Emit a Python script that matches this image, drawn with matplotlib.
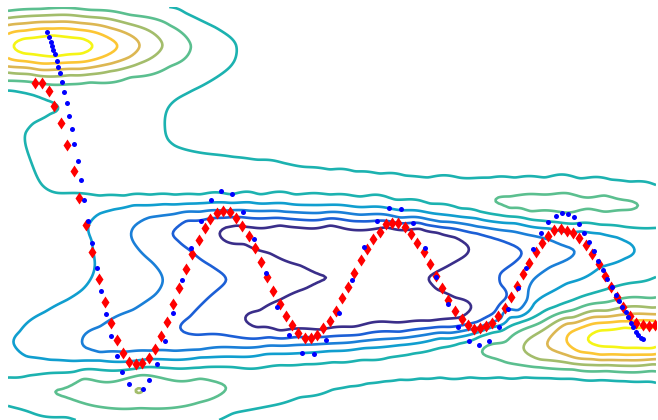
import numpy as np
import matplotlib
matplotlib.use("Agg")
import matplotlib.pyplot as plt

# Traced points on each contour level, (x, y)
lvl1 = [(219, 188), (225, 193), (237, 195), (280, 195), (330, 195), (387, 193), (420, 192),
        (437, 188), (455, 183), (467, 175), (468, 168), (460, 161), (453, 157), (440, 150),
        (427, 142), (432, 136), (437, 130), (455, 122), (470, 115), (468, 108), (460, 102),
        (430, 99), (403, 98), (353, 93), (320, 90), (280, 89), (257, 92), (245, 100),
        (260, 109), (280, 120), (305, 131), (330, 143), (300, 155), (270, 167), (245, 177),
        (222, 186)]
lvl2 = [(172, 187), (180, 195), (187, 200), (210, 202), (237, 203), (280, 202), (320, 200),
        (360, 199), (400, 197), (425, 195), (450, 192), (477, 187), (490, 183), (500, 180),
        (515, 174), (522, 168), (517, 160), (508, 153), (500, 147), (500, 135), (505, 120),
        (495, 108), (477, 98), (450, 93), (400, 88), (360, 85), (320, 83), (295, 83), (270, 83),
        (230, 84), (197, 85), (185, 87), (182, 90), (190, 103), (203, 117), (215, 128),
        (227, 140), (210, 155), (190, 170), (178, 180)]
lvl3 = [(131, 185), (140, 198), (150, 203), (175, 206), (200, 208), (225, 209), (250, 209),
        (285, 208), (320, 207), (360, 205), (400, 202), (440, 198), (477, 193), (500, 190),
        (520, 187), (535, 184), (550, 180), (568, 173), (575, 168), (570, 162), (560, 157),
        (550, 153), (540, 146), (533, 140), (528, 130), (528, 120), (518, 108), (503, 100),
        (480, 92), (450, 87), (400, 82), (360, 79), (320, 76), (260, 73), (200, 70), (175, 69),
        (150, 69), (125, 68), (100, 67), (85, 72), (83, 80), (100, 93), (133, 110), (155, 125),
        (163, 140), (152, 158), (137, 173)]
lvl4 = [(88, 193), (100, 207), (115, 211), (133, 215), (165, 216), (200, 217), (225, 218),
        (250, 218), (285, 217), (320, 215), (360, 213), (400, 210), (440, 206), (477, 202),
        (515, 197), (550, 192), (580, 189), (600, 187), (617, 183), (630, 177), (635, 170),
        (625, 162), (600, 153), (567, 137), (533, 117), (507, 105), (483, 90), (440, 82),
        (400, 75), (365, 72), (330, 69), (265, 66), (200, 63), (150, 61), (100, 60), (75, 59),
        (50, 60), (27, 63), (13, 77), (20, 88), (27, 97), (45, 108), (67, 120), (82, 130),
        (90, 140), (95, 157), (93, 170), (92, 180)]
lvl5 = [(168, 413), (185, 407), (200, 400), (215, 393), (230, 383), (236, 376), (237, 370),
        (235, 360), (230, 353), (220, 345), (207, 337), (193, 330), (180, 323), (172, 317),
        (167, 310), (165, 302), (165, 293), (166, 285), (168, 280), (175, 274), (187, 270),
        (210, 266), (233, 263), (258, 260), (283, 257), (305, 253), (330, 250), (355, 248),
        (380, 246), (405, 244), (428, 242), (460, 242), (490, 242), (515, 242), (545, 242),
        (580, 241), (611, 240), (630, 238), (655, 235),
        (8, 330), (33, 325), (53, 318), (58, 314), (50, 307), (33, 297), (25, 287), (27, 270),
        (33, 253), (42, 235), (57, 227), (100, 224), (125, 224), (150, 225), (175, 225),
        (200, 225), (230, 225), (260, 225), (295, 225), (330, 225), (360, 223), (395, 220),
        (430, 216), (461, 211), (480, 208), (500, 205), (525, 202), (550, 198), (575, 196),
        (600, 195), (625, 193), (653, 192),
        (8, 43), (30, 45), (50, 47), (75, 48), (100, 50), (135, 51), (170, 52), (200, 52),
        (233, 53), (280, 55), (305, 56), (333, 58), (360, 60), (390, 63), (415, 67), (440, 72),
        (460, 77), (480, 84), (493, 88), (507, 93), (523, 99), (540, 106), (555, 113), (573, 120),
        (590, 126), (610, 132), (630, 137), (653, 142),
        (8, 14), (30, 8), (67, 3), (140, -1), (233, 7), (270, 14), (300, 23), (333, 31),
        (350, 34), (367, 37), (385, 39), (400, 41), (420, 42), (440, 43), (470, 43), (500, 43),
        (525, 43), (550, 42), (575, 41), (600, 40), (625, 39), (653, 38)]
lvl6 = [(192, 374), (170, 394), (130, 405), (90, 410), (40, 411), (8, 409), (8, 339), (40, 337),
        (90, 338), (130, 343), (170, 354),
        (485, 65), (507, 78), (540, 97), (573, 110), (607, 118), (653, 122), (507, 57), (540, 53),
        (573, 51), (607, 49), (653, 49),
        (495, 217), (510, 223), (530, 226), (567, 227), (605, 225), (628, 220), (640, 215),
        (628, 210), (605, 208), (567, 207), (530, 208), (510, 211),
        (53, 30), (83, 42), (140, 45), (200, 42), (227, 32), (200, 18), (140, 12), (83, 17)]
lvl7 = [(163, 375), (140, 393), (110, 401), (70, 405), (30, 404), (8, 402), (8, 348), (30, 346),
        (70, 345), (110, 349), (140, 357),
        (523, 72), (540, 88), (573, 102), (607, 109), (653, 112), (540, 60), (573, 56), (607, 55), (653, 56)]
lvl8 = [(140, 374), (130, 385), (110, 392), (80, 397), (40, 398), (8, 395), (8, 353), (40, 350),
        (80, 351), (110, 356), (130, 363),
        (547, 77), (567, 97), (593, 103), (627, 106), (653, 106), (567, 65), (593, 61), (627, 60), (653, 61)]
lvl9 = [(118, 374), (105, 384), (80, 390), (53, 391), (25, 389), (8, 386), (8, 362), (25, 359),
        (53, 357), (80, 358), (105, 364),
        (567, 78), (580, 92), (600, 97), (627, 98), (653, 99), (580, 68), (600, 65), (627, 65), (653, 65)]
lvl10 = [(13, 374), (25, 382), (53, 385), (81, 382), (93, 374), (81, 366), (53, 363), (25, 366),
         (588, 82), (600, 90), (625, 93), (653, 93), (600, 74), (625, 72), (653, 72)]

# spot heights between the traced lines, (x, y, value)
valley_spots = [(300, 182, 0.2), (400, 180, 0.2), (300, 102, 0.3), (400, 108, 0.3), (378, 142, 0.6),
                (250, 185, 0.6), (440, 178, 0.5), (280, 96, 0.6), (440, 108, 0.5),
                (280, 142, 1.5), (465, 145, 1.5)]
peak_spots = [(53, 374, 10.6), (655, 83, 10.6), (567, 217, 6.3), (138, 30, 7.1)]
plateau_spots = [(260, 320, 4.6), (300, 330, 4.6), (330, 300, 4.6), (400, 360, 4.6), (420, 300, 4.6),
                 (500, 300, 4.6), (520, 270, 4.6), (600, 270, 4.6), (650, 260, 4.6), (600, 350, 4.6),
                 (640, 300, 4.6), (450, 280, 4.6), (350, 280, 4.6), (280, 395, 4.6), (350, 408, 4.6),
                 (450, 405, 4.6), (550, 410, 4.6), (640, 405, 4.6), (500, 370, 4.6), (560, 330, 4.6),
                 (460, 330, 4.6), (300, 370, 4.6), (380, 270, 4.6), (260, 370, 4.6), (240, 320, 4.6),
                 (200, 300, 4.6), (250, 290, 4.6), (300, 280, 4.6), (300, 265, 4.7), (420, 258, 4.7),
                 (560, 256, 4.7), (220, 278, 4.7), (190, 288, 4.7),
                 (10, 250, 4.6), (10, 200, 4.5), (40, 160, 4.4), (8, 130, 4.4), (652, 165, 4.4),
                 (450, 10, 4.6), (600, 15, 4.6), (630, 10, 4.6), (520, 20, 4.6), (560, 5, 4.6),
                 (400, 20, 4.7), (350, 10, 4.6)]
ridge_spots = [(120, 280, 5.5), (100, 250, 5.4), (140, 280, 5.5), (140, 310, 5.5), (185, 340, 5.4),
               (175, 405, 5.5), (200, 374, 5.5), (120, 320, 5.6), (90, 312, 5.4), (110, 300, 5.5),
               (200, 246, 5.4), (250, 242, 5.3), (300, 238, 5.3), (350, 236, 5.3), (400, 232, 5.3),
               (450, 228, 5.3), (470, 228, 5.3), (655, 215, 5.5),
               (30, 28, 5.3), (260, 32, 5.4), (300, 40, 5.35), (330, 45, 5.3), (360, 49, 5.3),
               (400, 53, 5.3), (430, 56, 5.4), (460, 60, 5.6)]

levels = [1, 2, 3, 4, 5, 6, 7, 8, 9, 10]
level_colors = ['#3a2e8a', '#1c5fd6', '#1a7fd8', '#109ecf', '#1cb2b0',
                '#5bbf8f', '#a3bd6b', '#dcb752', '#fcc634', '#f5f516']

# sampled curve (red) and trajectory (blue)
diamond_x = [35, 42, 49, 54, 61, 67, 74, 79, 86, 92, 99, 105, 111, 117, 123, 129, 136, 142, 149, 155,
             161, 167, 173, 179, 186, 192, 199, 205, 210, 217, 223, 230, 236, 242, 249, 255, 261, 267,
             273, 280, 286, 292, 298, 305, 311, 317, 323, 330, 336, 342, 348, 354, 361, 367, 373, 380,
             386, 392, 398, 405, 411, 417, 424, 430, 436, 442, 448, 455, 462, 468, 474, 480, 486, 492,
             498, 505, 511, 517, 523, 529, 536, 542, 548, 554, 561, 567, 573, 579, 586, 592, 599, 605,
             611, 617, 623, 630, 636, 643, 649, 655]
diamond_y = [337, 337, 329, 314, 297, 275, 249, 222, 195, 168, 141, 118, 97, 80, 67, 58, 56, 57, 62, 71,
             84, 98, 116, 132, 151, 166, 180, 192, 201, 207, 209, 208, 202, 194, 184, 172, 158, 143,
             129, 116, 104, 95, 87, 82, 82, 85, 92, 99, 109, 122, 133, 147, 160, 171, 181, 188,
             196, 197, 197, 193, 186, 177, 168, 156, 144, 132, 120, 109, 101, 95, 91, 92, 94, 97,
             104, 112, 123, 134, 146, 157, 168, 177, 184, 190, 191, 189, 187, 182, 175, 166, 156, 144,
             133, 123, 113, 104, 97, 95, 94, 95]
dots_x = [47, 49, 51, 52, 53, 55, 57, 58, 60, 62, 64, 67, 69, 72, 74, 78, 81, 84, 88, 92, 97, 101, 106,
          111, 117, 122, 129, 143, 149, 157, 165, 173, 182, 191, 201, 211, 221, 232, 243, 254, 266, 277,
          289, 302, 314, 326, 339, 352, 364, 377, 389, 401, 413, 425, 436, 448, 458, 469, 479, 489, 499,
          508, 518, 526, 533, 541, 548, 556, 562, 568, 574, 579, 584, 589, 594, 598, 603, 607, 612, 616,
          619, 622, 626, 628, 631, 633, 636, 638, 641, 643]
dots_y = [388, 383, 378, 374, 370, 366, 359, 353, 347, 338, 328, 317, 304, 291, 276, 259, 240, 220, 199,
          177, 152, 129, 106, 84, 64, 48, 36, 31, 40, 56, 79, 107, 140, 172, 199, 220, 229, 226, 208,
          181, 147, 113, 85, 67, 66, 80, 107, 140, 173, 199, 212, 211, 197, 172, 143, 116, 93, 79, 75,
          79, 93, 111, 132, 152, 171, 187, 198, 204, 207, 206, 203, 196, 187, 178, 169, 159, 150, 141,
          133, 125, 119, 113, 108, 103, 97, 93, 88, 85, 82, 81]


def tps_kernel(r):
    with np.errstate(divide='ignore', invalid='ignore'):
        k = r ** 2 * np.log(r)
    return np.nan_to_num(k)


def tps_surface(px, py, pv, gx, gy, smooth=4e-3):
    # smoothing thin-plate spline through the traced heights
    p = np.column_stack([px, py]) / 100.0
    n = len(p)
    d = np.sqrt(((p[:, None, :] - p[None, :, :]) ** 2).sum(-1))
    A = np.zeros((n + 3, n + 3))
    A[:n, :n] = tps_kernel(d) + smooth * np.eye(n)
    P = np.column_stack([np.ones(n), p])
    A[:n, n:] = P
    A[n:, :n] = P.T
    sol = np.linalg.solve(A, np.concatenate([pv, np.zeros(3)]))
    w, a = sol[:n], sol[n:]
    q = np.column_stack([gx.ravel(), gy.ravel()]) / 100.0
    out = np.empty(len(q))
    for i in range(0, len(q), 3000):
        qq = q[i:i + 3000]
        dq = np.sqrt(((qq[:, None, :] - p[None, :, :]) ** 2).sum(-1))
        out[i:i + 3000] = tps_kernel(dq) @ w + a[0] + qq @ a[1:]
    return out.reshape(gx.shape)


px, py, pv = [], [], []
for value, pts in zip(levels, [lvl1, lvl2, lvl3, lvl4, lvl5, lvl6, lvl7, lvl8, lvl9, lvl10]):
    for x, y in pts:
        px.append(x)
        py.append(y)
        pv.append(value)
for x, y, v in valley_spots + peak_spots + plateau_spots + ridge_spots:
    px.append(x)
    py.append(y)
    pv.append(v)

gx, gy = np.meshgrid(np.linspace(8, 656, 325), np.linspace(0, 413, 207))
gz = tps_surface(np.array(px, float), np.array(py, float), np.array(pv, float), gx, gy)

fig = plt.figure(figsize=(6.58, 4.2), dpi=100)
ax = fig.add_axes([8 / 658, 0, 648 / 658, 413 / 420])
ax.contour(gx, gy, gz, levels=levels, colors=level_colors, linewidths=1.9)
ax.plot(diamond_x, diamond_y, 'd', color='red', ms=6.5, mec='none', ls='none')
ax.plot(dots_x, dots_y, 'o', color='blue', ms=3.6, mec='none', ls='none')
ax.set_xlim(8, 656)
ax.set_ylim(0, 413)
ax.axis('off')

fig.savefig('out.png', dpi=100)
